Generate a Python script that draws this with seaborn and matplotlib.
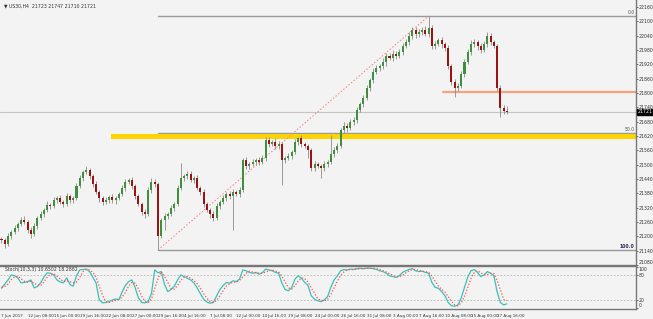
import numpy as np
import pandas as pd
import matplotlib
matplotlib.use("Agg")
import matplotlib.pyplot as plt
import seaborn as sns

# ---------------- data ----------------
tick_labels = ["7 Jun 2017", "12 Jun 08:00", "15 Jun 00:00", "19 Jun 16:00", "22 Jun 08:00",
               "27 Jun 00:00", "29 Jun 16:00", "4 Jul 16:00", "7 Jul 08:00", "12 Jul 00:00",
               "14 Jul 16:00", "19 Jul 08:00", "24 Jul 00:00", "26 Jul 16:00", "31 Jul 08:00",
               "3 Aug 00:00", "7 Aug 16:00", "10 Aug 08:00", "15 Aug 00:00", "17 Aug 16:00"]

first_open = 21188
close = [21185, 21168, 21201, 21218, 21235, 21252, 21268, 21260, 21227, 21210,
         21243, 21277, 21293, 21310, 21331, 21327, 21352, 21360, 21344, 21335,
         21369, 21352, 21360, 21411, 21444, 21469, 21478, 21452, 21419, 21386,
         21360, 21344, 21352, 21364, 21352, 21360, 21377, 21402, 21427, 21436,
         21411, 21369, 21335, 21302, 21293, 21394, 21427, 21419, 21201, 21268,
         21285, 21293, 21319, 21335, 21402, 21444, 21452, 21461, 21436, 21444,
         21402, 21386, 21335, 21310, 21293, 21277, 21327, 21344, 21360, 21377,
         21369, 21386, 21377, 21394, 21520, 21494, 21503, 21511, 21520, 21511,
         21528, 21603, 21586, 21595, 21578, 21586, 21520, 21528, 21536, 21553,
         21595, 21612, 21586, 21578, 21561, 21486, 21503, 21494, 21486, 21503,
         21511, 21545, 21561, 21578, 21645, 21662, 21653, 21679, 21687, 21729,
         21754, 21779, 21821, 21854, 21888, 21905, 21913, 21930, 21955, 21947,
         21963, 21955, 21972, 21997, 22013, 22039, 22064, 22047, 22055, 22064,
         22047, 22072, 21997, 22005, 22022, 22005, 21988, 21913, 21846, 21821,
         21829, 21880, 21930, 21972, 22005, 22013, 21997, 21980, 22005, 22039,
         22013, 21997, 21821, 21737, 21723, 21721]

upper_wick = [10, 8, 12, 9, 14, 10, 12, 16, 8, 10, 14, 9, 12, 10, 15, 8, 12, 10, 14, 9,
              12, 10, 8, 14, 12, 10, 16, 10, 8, 12, 9, 10, 14, 8, 12, 10, 9, 12, 14, 10,
              12, 8, 10, 9, 12, 14, 16, 12, 8, 10, 12, 9, 14, 10, 12, 63, 10, 14, 12, 10,
              12, 9, 10, 8, 10, 12, 14, 10, 12, 9, 12, 10, 8, 12, 6, 12, 10, 14, 9, 12,
              14, 14, 12, 10, 16, 12, 8, 10, 12, 10, 14, 5, 12, 10, 9, 10, 12, 9, 10, 12,
              10, 81, 14, 12, 10, 16, 12, 10, 14, 12, 10, 12, 14, 10, 16, 12, 10, 18, 14, 12,
              16, 12, 10, 14, 12, 16, 12, 14, 12, 10, 16, 50, 12, 14, 10, 12, 10, 12, 10, 14,
              12, 10, 14, 12, 16, 14, 10, 12, 14, 16, 12, 10, 8, 12, 14, 24]

lower_wick = [12, 18, 10, 12, 9, 14, 10, 8, 12, 16, 10, 12, 9, 14, 10, 12, 8, 14, 10, 12,
              10, 14, 12, 8, 10, 12, 9, 14, 12, 10, 16, 12, 10, 14, 12, 18, 10, 9, 12, 10,
              14, 12, 10, 12, 16, 10, 12, 14, 58, 10, 41, 12, 10, 14, 9, 10, 12, 14, 10, 12,
              10, 14, 12, 10, 16, 12, 10, 12, 9, 14, 12, 142, 10, 12, 8, 14, 12, 10, 12, 14,
              10, 12, 14, 10, 12, 14, 105, 12, 10, 14, 10, 12, 14, 10, 33, 12, 14, 10, 42, 12,
              14, 10, 12, 14, 10, 12, 16, 10, 12, 14, 10, 12, 10, 14, 12, 10, 14, 12, 16, 10,
              12, 14, 10, 12, 10, 14, 12, 16, 12, 14, 10, 12, 14, 12, 10, 16, 12, 14, 12, 40,
              12, 10, 14, 10, 12, 14, 16, 12, 10, 14, 12, 10, 14, 38, 12, 11]

stoch_main = [48, 58, 68, 80, 78, 73, 61, 62, 64, 68, 49, 52, 61, 75, 85, 84, 80, 68, 63, 61,
              73, 57, 53, 78, 92, 93, 94, 88, 75, 61, 20, 13, 14, 16, 20, 22, 21, 39, 55, 64,
              68, 49, 25, 14, 13, 16, 36, 92, 85, 88, 57, 40, 45, 53, 68, 80, 76, 72, 68, 61,
              49, 35, 22, 15, 12, 14, 30, 45, 55, 62, 60, 66, 64, 70, 92, 90, 86, 84, 86, 82,
              85, 94, 92, 90, 86, 84, 60, 45, 42, 50, 70, 78, 72, 62, 55, 30, 22, 18, 16, 20,
              28, 50, 68, 78, 90, 93, 92, 94, 93, 95, 96, 95, 96, 96, 95, 93, 90, 88, 84, 78,
              76, 74, 78, 86, 90, 93, 95, 90, 88, 89, 86, 84, 62, 50, 48, 40, 30, 14, 6, 5,
              8, 25, 50, 75, 90, 93, 86, 76, 80, 88, 84, 78, 40, 14, 8, 10.6502]

stoch_signal = [50, 53, 58, 69, 75, 77, 71, 65, 62, 65, 60, 56, 54, 63, 74, 81, 83, 77, 70, 64,
                66, 64, 61, 63, 74, 88, 93, 92, 86, 75, 52, 31, 16, 14, 17, 19, 21, 27, 38, 53,
                62, 60, 47, 29, 17, 14, 22, 48, 71, 88, 77, 62, 47, 46, 55, 67, 75, 76, 72, 67,
                59, 48, 35, 24, 16, 14, 19, 30, 43, 54, 59, 63, 63, 67, 75, 84, 89, 87, 85, 84,
                84, 87, 90, 92, 89, 87, 77, 63, 49, 46, 54, 66, 73, 71, 63, 49, 36, 23, 19, 18,
                21, 33, 49, 65, 79, 87, 92, 93, 93, 94, 95, 95, 96, 96, 96, 95, 93, 90, 87, 83,
                79, 76, 76, 79, 85, 90, 93, 93, 91, 89, 88, 86, 77, 65, 53, 46, 39, 28, 17, 8,
                6, 13, 28, 50, 72, 86, 90, 85, 81, 81, 84, 83, 67, 44, 21, 18.2882]

fib_high, fib_low = 22122, 21143
fib_start, fib_end = 48, 131
zone_low, zone_high, zone_start = 21607, 21628, 33.6
level_orange, level_start = 21802, 135.4
bid = 21721
y_ticks = list(range(21080, 22161, 60))

# ---------------- build ----------------
n = len(close)
idx = np.arange(n)
c = np.array(close, float)
o = np.r_[first_open, c[:-1]]
hi = np.maximum(o, c) + np.array(upper_wick)
lo = np.minimum(o, c) - np.array(lower_wick)
df = pd.DataFrame({"i": idx, "open": o, "close": c, "high": hi, "low": lo})

sns.set_theme(style="white")
plt.rcParams["font.family"] = ["Liberation Sans Narrow", "DejaVu Sans"]

bg = "#f3f3f3"
W, H = 653, 319
fig = plt.figure(figsize=(W / 100, H / 100), dpi=100, facecolor=bg)
ax = fig.add_axes([0, 1 - 265 / H, 636 / W, 265 / H], facecolor=bg)
ax2 = fig.add_axes([0, 1 - 309 / H, 636 / W, 43 / H], facecolor=bg)

xmin, xmax = -0.46, 194.6
ax.set_xlim(xmin, xmax)
ax.set_ylim(21080, 22189)

# bid line, fib lines, zones
ax.axhline(bid, color="#c4c4c4", lw=0.8, zorder=1)
for lvl in (fib_high, (fib_high + fib_low) / 2, fib_low):
    ax.plot([fib_start, xmax], [lvl, lvl], color="#9a9a9a", lw=1.0, zorder=1)
ax.fill_between([zone_start, xmax], zone_low, zone_high, color="#ffd400", lw=0, zorder=2)
ax.plot([level_start, xmax], [level_orange, level_orange], color="#f7a27f", lw=1.6, zorder=2)
ax.plot([fib_start, fib_end], [fib_low, fib_high], color="#ff7b7b", lw=0.7, ls=(0, (1.5, 2)), zorder=2)

# candles
up = df["close"] >= df["open"]
ax.vlines(df["i"], df["low"], df["high"], color="#8a8a8a", lw=0.6, zorder=3)
body_h = np.maximum((df["close"] - df["open"]).abs(), 1.5)
ax.bar(df["i"], body_h, bottom=np.minimum(df["open"], df["close"]), width=0.62,
       color=np.where(up, "#3f8f3f", "#9e1212"), lw=0, zorder=4)

fs = 3.3
ax.text(xmax - 0.4, fib_high + 3, "0.0", ha="right", va="bottom", fontsize=fs, color="#555555")
ax.text(xmax - 0.4, (fib_high + fib_low) / 2 + 3, "50.0", ha="right", va="bottom", fontsize=fs, color="#555555")
ax.text(xmax - 0.4, fib_low + 3, "100.0", ha="right", va="bottom", fontsize=fs, color="#2a2a50",
        fontweight="bold")

ax.yaxis.tick_right()
ax.set_yticks(y_ticks)
ax.set_yticklabels([str(t) for t in y_ticks], fontsize=fs, color="#333333")
ax.get_yticklabels()[0].set_va("bottom")
ax.tick_params(axis="y", length=1.5, width=0.6, pad=0.6, colors="#555555", labelcolor="#333333")
ax.set_xticks([])
for s in ("left", "top"):
    ax.spines[s].set_visible(False)
for s in ("right", "bottom"):
    ax.spines[s].set_color("#777777")
    ax.spines[s].set_linewidth(1.0)

ax.text(1.002, bid, "21721", transform=ax.get_yaxis_transform(), fontsize=fs, color="white",
        va="center", ha="left", bbox=dict(boxstyle="square,pad=0.12", fc="black", ec="black"),
        zorder=6)

fig.text(4 / W, 1 - 6 / H, "\u25BC US30,H4  21723 21747 21710 21721", fontsize=fs,
         color="#333333", va="center", ha="left")

# ---------------- stochastic panel ----------------
sdf = pd.DataFrame({"i": idx, "main": stoch_main, "signal": stoch_signal})
ax2.set_xlim(xmin, xmax)
ax2.set_ylim(-1.7, 101.4)
for lvl in (80, 20):
    ax2.axhline(lvl, color="#b5b5b5", lw=0.6, ls=(0, (2, 2)))
sns.lineplot(data=sdf, x="i", y="main", ax=ax2, color="#3cc0b8", lw=0.9)
sns.lineplot(data=sdf, x="i", y="signal", ax=ax2, color="#ff5050", lw=0.9, ls=(0, (1, 1.5)))
ax2.set_xlabel("")
ax2.set_ylabel("")
ax2.yaxis.tick_right()
ax2.set_yticks([0, 20, 80, 100])
ax2.set_yticklabels(["0", "20", "80", "100"], fontsize=fs, color="#333333")
ax2.get_yticklabels()[3].set_va("top")
ax2.get_yticklabels()[0].set_va("bottom")
ax2.tick_params(axis="y", length=1.5, width=0.6, pad=0.6, colors="#555555", labelcolor="#333333")
ax2.set_xticks(np.arange(0, 8 * len(tick_labels), 8))
ax2.set_xticklabels(tick_labels, fontsize=3.0, color="#333333", ha="left")
ax2.tick_params(axis="x", length=2.5, width=0.6, pad=1.0, colors="#555555", labelcolor="#333333")
ax2.spines["left"].set_visible(False)
for s in ("right", "bottom", "top"):
    ax2.spines[s].set_color("#777777")
    ax2.spines[s].set_linewidth(1.0)
ax2.text(1, 99, "Stoch(10,3,3) 10.6502 18.2882", fontsize=fs, color="#333333", va="top", ha="left")

fig.savefig("out.png", dpi=100, facecolor=bg)
